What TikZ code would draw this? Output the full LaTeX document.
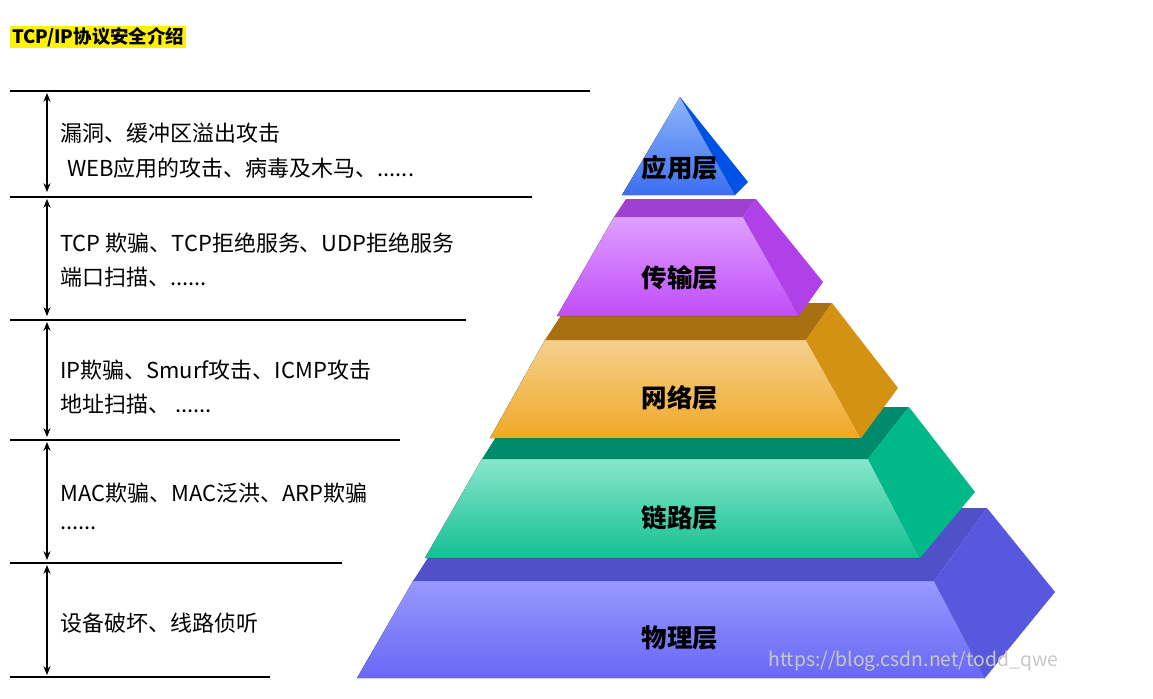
\documentclass[tikz,border=0pt]{standalone}
\usepackage{fontspec}
\setmainfont{Noto Sans CJK SC}
\usetikzlibrary{arrows.meta,positioning}
\definecolor{phyTop}{RGB}{152,152,255}
\definecolor{phyBot}{RGB}{104,104,246}
\definecolor{phyStrip}{RGB}{80,80,200}
\definecolor{phySide}{RGB}{88,88,222}
\definecolor{lnkTop}{RGB}{136,230,204}
\definecolor{lnkBot}{RGB}{20,192,146}
\definecolor{lnkStrip}{RGB}{0,140,108}
\definecolor{lnkSide}{RGB}{0,184,136}
\definecolor{netTop}{RGB}{245,208,140}
\definecolor{netBot}{RGB}{240,168,40}
\definecolor{netStrip}{RGB}{168,112,16}
\definecolor{netSide}{RGB}{212,146,18}
\definecolor{trnTop}{RGB}{222,160,255}
\definecolor{trnBot}{RGB}{192,76,248}
\definecolor{trnStrip}{RGB}{160,64,210}
\definecolor{trnSide}{RGB}{176,64,232}
\definecolor{appTop}{RGB}{140,182,250}
\definecolor{appBot}{RGB}{60,110,240}
\definecolor{appSide}{RGB}{0,82,228}

\begin{document}
\begin{tikzpicture}[x=0.02cm,y=-0.02cm]
  \tikzset{desc/.style = {anchor=west,inner sep=0pt,font=\fontsize{12.5}{14}\selectfont}}
  \tikzset{layer/.style = {inner sep=0pt,font=\bfseries\fontsize{14.5}{16}\selectfont}}
  \tikzset{sep/.style = {draw=black,line width=0.6pt}}
  \tikzset{span/.style = {<->,>={Stealth[length=5pt,width=4pt]},line width=0.6pt}}
  \useasboundingbox (0,0) rectangle (1153,698);

	% title
	\node[anchor=west,fill=yellow,inner sep=1pt,font=\bfseries\fontsize{10.5}{12}\selectfont] (title) at (10,37) {TCP/IP协议安全介绍};

	% separators
	\coordinate (L1a) at (10,91);  \coordinate (L1b) at (590,91);
	\coordinate (L2a) at (10,197); \coordinate (L2b) at (532,197);
	\coordinate (L3a) at (10,320); \coordinate (L3b) at (466,320);
	\coordinate (L4a) at (10,440); \coordinate (L4b) at (400,440);
	\coordinate (L5a) at (10,563); \coordinate (L5b) at (342,563);
	\coordinate (L6a) at (10,677); \coordinate (L6b) at (270,677);
    \foreach \i in {1,...,6}
    \draw[sep] (L\i a) -- (L\i b);

	\coordinate (A1) at (47,93);  \coordinate (B1) at (47,192);
	\coordinate (A2) at (47,199); \coordinate (B2) at (47,316);
	\coordinate (A3) at (47,322); \coordinate (B3) at (47,437);
	\coordinate (A4) at (47,442); \coordinate (B4) at (47,560);
	\coordinate (A5) at (47,565); \coordinate (B5) at (47,675);
    \foreach \i in {1,...,5}
    \draw[span] (A\i) -- (B\i);

	% attacks
	\node[desc] (t1a) at (60,133) {漏洞、缓冲区溢出攻击};
	\node[desc] (t1b) at (67,168) {WEB应用的攻击、病毒及木马、......};
	\node[desc] (t2a) at (60,243) {TCP 欺骗、TCP拒绝服务、UDP拒绝服务};
	\node[desc] (t2b) at (60,277) {端口扫描、......};
	\node[desc] (t3a) at (60,370) {IP欺骗、Smurf攻击、ICMP攻击};
	\node[desc] (t3b) at (60,404) {地址扫描、 ......};
	\node[desc] (t4a) at (60,493) {MAC欺骗、MAC泛洪、ARP欺骗};
	\node[desc] (t4b) at (60,528) {......};
	\node[desc] (t5a) at (60,623) {设备破坏、线路侦听};

	% physical
	\fill[top color=phyTop,bottom color=phyBot] (413,581) -- (934,581) -- (985,678) -- (357,678) -- cycle;
	\fill[phyStrip] (413,581) -- (460,508) -- (987,508) -- (934,581) -- cycle;
	\fill[phySide] (934,581) -- (987,508) -- (1055,592) -- (985,678) -- cycle;
	\node[layer] (phy) at (680,638) {物理层};

	% link
	\fill[top color=lnkTop,bottom color=lnkBot] (482,459) -- (868,459) -- (920,558) -- (425,558) -- cycle;
	\fill[lnkStrip] (482,459) -- (515,407) -- (909,407) -- (868,459) -- cycle;
	\fill[lnkSide] (868,459) -- (909,407) -- (975,492) -- (920,558) -- cycle;
	\node[layer] (lnk) at (680,518) {链路层};

	% network
	\fill[top color=netTop,bottom color=netBot] (545,340) -- (806,340) -- (861,438) -- (490,438) -- cycle;
	\fill[netStrip] (545,340) -- (569,303) -- (832,303) -- (806,340) -- cycle;
	\fill[netSide] (806,340) -- (832,303) -- (898,388) -- (861,438) -- cycle;
	\node[layer] (net) at (680,398) {网络层};

	% transport
	\fill[top color=trnTop,bottom color=trnBot] (614,217) -- (743,217) -- (799,316) -- (557,316) -- cycle;
	\fill[trnStrip] (614,217) -- (626,199) -- (756,199) -- (743,217) -- cycle;
	\fill[trnSide] (743,217) -- (756,199) -- (823,282) -- (799,316) -- cycle;
	\node[layer] (trn) at (680,278) {传输层};

	% application
	\fill[top color=appTop,bottom color=appBot] (680,97) -- (735,195) -- (622,195) -- cycle;
	\fill[appSide] (680,97) -- (748,182) -- (735,195) -- cycle;
	\node[layer] (app) at (680,168) {应用层};

	\node[anchor=west,inner sep=0pt,text=black!22,font=\fontsize{11}{12}\selectfont] (mark) at (768,661) {https://blog.csdn.net/todd\_qwe};

\end{tikzpicture}
\end{document}
